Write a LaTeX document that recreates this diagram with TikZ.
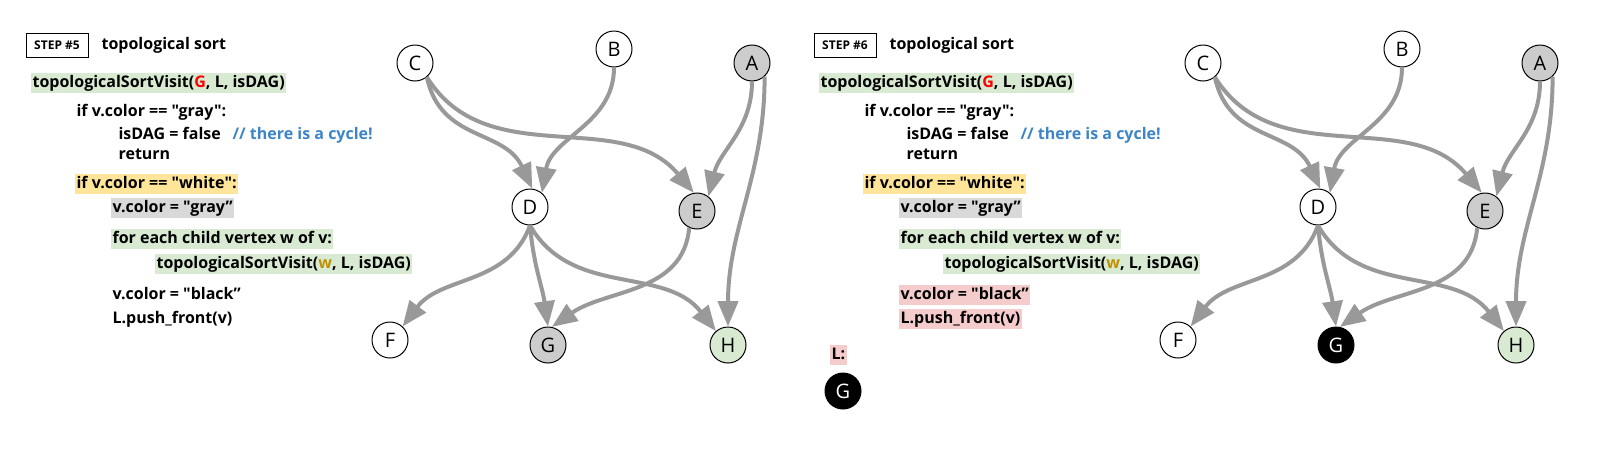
\documentclass[tikz,border=0pt]{standalone}
\usepackage{fontspec}
\setmainfont{Open Sans}[Ligatures=TeXOff]
\usetikzlibrary{arrows.meta}
\definecolor{arcgray}{HTML}{999999}
\definecolor{vgray}{HTML}{CCCCCC}
\definecolor{vgreen}{HTML}{D9EAD3}
\definecolor{hlgreen}{HTML}{D9EAD3}
\definecolor{hlyellow}{HTML}{FFE599}
\definecolor{hlgray}{HTML}{D9D9D9}
\definecolor{hlpink}{HTML}{F4CCCC}
\definecolor{cmtblue}{HTML}{3D85C6}
\definecolor{argred}{HTML}{FF0000}
\definecolor{argyellow}{HTML}{BF9000}

\tikzset{
    vertex/.style={circle, draw, line width=0.75pt, minimum size=27pt, inner sep=0pt,
        font=\fontsize{15}{15}\selectfont},
    arc/.style={draw=arcgray, line width=3pt, -{Triangle[length=19pt,width=15pt]}},
    codeline/.style={anchor=west, inner xsep=1pt, inner ysep=0.75pt, text height=10pt,
        text depth=3.5pt, font=\fontsize{12}{14}\selectfont\bfseries},
    stepbox/.style={draw, line width=0.75pt, minimum width=46.5pt, minimum height=18pt,
        inner sep=0pt, font=\fontsize{9}{9}\selectfont\bfseries}
}

\begin{document}
\begin{tikzpicture}[x=0.75pt, y=0.75pt]
    \useasboundingbox (0,0) rectangle (1621,-461);

    % step 5: code
    \node[stepbox] (step5) at (57,-45) {STEP \#5};
    \node[codeline] (title5) at (100,-45) {topological sort};
    \node[codeline, fill=hlgreen] (visit5) at (31,-83) {topologicalSortVisit(\textcolor{argred}{G}, L, isDAG)};
    \node[codeline] (ifgray5) at (75,-112) {if v.color == "gray":};
    \node[codeline] (isdag5) at (117,-135) {isDAG = false};
    \node[codeline, text=cmtblue] (cmt5) at (231,-135) {// there is a cycle!};
    \node[codeline] (ret5) at (117,-155) {return};
    \node[codeline, fill=hlyellow] (ifwhite5) at (75,-184) {if v.color == "white":};
    \node[codeline, fill=hlgray] (setgray5) at (111,-208) {v.color = "gray”};
    \node[codeline, fill=hlgreen] (each5) at (111,-239) {for each child vertex w of v:};
    \node[codeline, fill=hlgreen] (recur5) at (155,-264) {topologicalSortVisit(\textcolor{argyellow}{w}, L, isDAG)};
    \node[codeline] (setblack5) at (111,-295) {v.color = "black”};
    \node[codeline] (push5) at (111,-319) {L.push\_front(v)};

    % step 5: graph
    \node[vertex] (c5) at (415,-63) {C};
    \node[vertex] (b5) at (614,-49) {B};
    \node[vertex, fill=vgray] (a5) at (752,-63) {A};
    \node[vertex] (d5) at (530,-207) {D};
    \node[vertex, fill=vgray] (e5) at (697,-211) {E};
    \node[vertex] (f5) at (390,-340) {F};
    \node[vertex, fill=vgray] (g5) at (548,-345) {G};
    \node[vertex, fill=vgreen] (h5) at (728,-345) {H};

    % step 6: code
    \node[stepbox] (step6) at (845,-45) {STEP \#6};
    \node[codeline] (title6) at (888,-45) {topological sort};
    \node[codeline, fill=hlgreen] (visit6) at (819,-83) {topologicalSortVisit(\textcolor{argred}{G}, L, isDAG)};
    \node[codeline] (ifgray6) at (863,-112) {if v.color == "gray":};
    \node[codeline] (isdag6) at (905,-135) {isDAG = false};
    \node[codeline, text=cmtblue] (cmt6) at (1019,-135) {// there is a cycle!};
    \node[codeline] (ret6) at (905,-155) {return};
    \node[codeline, fill=hlyellow] (ifwhite6) at (863,-184) {if v.color == "white":};
    \node[codeline, fill=hlgray] (setgray6) at (899,-208) {v.color = "gray”};
    \node[codeline, fill=hlgreen] (each6) at (899,-239) {for each child vertex w of v:};
    \node[codeline, fill=hlgreen] (recur6) at (943,-264) {topologicalSortVisit(\textcolor{argyellow}{w}, L, isDAG)};
    \node[codeline, fill=hlpink] (setblack6) at (899,-295) {v.color = "black”};
    \node[codeline, fill=hlpink] (push6) at (899,-319) {L.push\_front(v)};
    \node[codeline, fill=hlpink] (list6) at (830,-355) {L:};
    \node[vertex, fill=black, text=white] (lg6) at (843,-391) {G};

    % step 6: graph
    \node[vertex] (c6) at (1203,-63) {C};
    \node[vertex] (b6) at (1402,-49) {B};
    \node[vertex, fill=vgray] (a6) at (1540,-63) {A};
    \node[vertex] (d6) at (1318,-207) {D};
    \node[vertex, fill=vgray] (e6) at (1485,-211) {E};
    \node[vertex] (f6) at (1178,-340) {F};
    \node[vertex, fill=black, text=white] (g6) at (1336,-345) {G};
    \node[vertex, fill=vgreen] (h6) at (1516,-345) {H};

    % edges, same in both steps
    \foreach \p in {5,6} {
        \draw[arc] (c\p.-50) to[out=-78, in=115, looseness=1.1] (d\p.83);
        \draw[arc] (c\p.-50) to[out=-58, in=130] (e\p.100);
        \draw[arc] (b\p.south) to[out=-90, in=80] (d\p.50);
        \draw[arc] (a\p.south) to[out=-90, in=76] (e\p.52);
        \draw[arc] (a\p.-47) to[out=-90, in=90] (h\p.north);
        \draw[arc] (d\p.south) to[out=-110, in=53] (f\p.47);
        \draw[arc] (d\p.south) to[out=-85, in=98] (g\p.north);
        \draw[arc] (d\p.south) to[out=-60, in=128] (h\p.131);
        \draw[arc] (e\p.-115) to[out=-95, in=35] (g\p.78);
    }
\end{tikzpicture}
\end{document}
